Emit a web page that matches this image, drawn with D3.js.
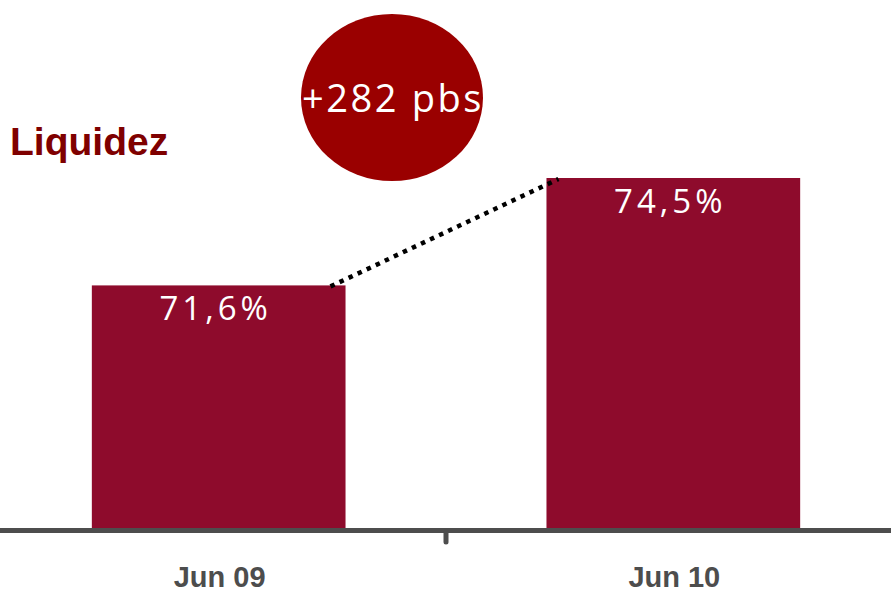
<!DOCTYPE html>
<html>
<head>
<meta charset="utf-8">
<script src="https://cdn.jsdelivr.net/npm/d3@7"></script>
<style>
  body { margin: 0; background: #fff; }
</style>
</head>
<body>
<script>
// chart data
var categories = ["Jun 09", "Jun 10"];
var values = [71.6, 74.5];
var valueLabels = ["71,6%", "74,5%"];
var changeLabel = "+282 pbs";
var title = "Liquidez";

var w = 891;
var h = 592;
var baseY = 528;

var svg = d3.select("body")
            .append("svg")
            .attr("width", w)
            .attr("height", h);

// scales
var x_scale = d3.scaleBand()
                .domain(categories)
                .range([0, 892])
                .paddingInner(0.442)
                .paddingOuter(0.202);

var y_scale = d3.scaleLinear()
                .domain([65.05, 74.5])
                .range([baseY, 178]);

// bars
svg.selectAll("rect.bar")
   .data(values)
   .enter()
   .append("rect")
   .attr("class", "bar")
   .attr("x", function(d, i){ return x_scale(categories[i]); })
   .attr("y", function(d){ return y_scale(d); })
   .attr("width", x_scale.bandwidth())
   .attr("height", function(d){ return baseY - y_scale(d); })
   .attr("fill", "#8E0B2C");

// value labels inside bars
svg.selectAll("text.val")
   .data(values)
   .enter()
   .append("text")
   .attr("class", "val")
   .attr("x", function(d, i){ return x_scale(categories[i]) + x_scale.bandwidth()/2 - 3; })
   .attr("y", function(d){ return y_scale(d) + 35; })
   .attr("text-anchor", "middle")
   .attr("fill", "#fff")
   .style("font-family", "Open Sans")
   .style("font-size", "33px")
   .style("letter-spacing", "4px")
   .text(function(d, i){ return valueLabels[i]; });

// x axis: thick line, tick between categories
svg.append("line")
   .attr("x1", 0).attr("x2", w)
   .attr("y1", baseY + 2.5).attr("y2", baseY + 2.5)
   .attr("stroke", "#4D4D4D")
   .attr("stroke-width", 5);

var midX = (x_scale(categories[0]) + x_scale.bandwidth() + x_scale(categories[1])) / 2;
svg.append("line")
   .attr("x1", midX).attr("x2", midX)
   .attr("y1", baseY + 4).attr("y2", baseY + 14)
   .attr("stroke", "#4D4D4D")
   .attr("stroke-width", 5)
   .attr("stroke-linecap", "round");

svg.selectAll("text.cat")
   .data(categories)
   .enter()
   .append("text")
   .attr("class", "cat")
   .attr("x", function(d){ return x_scale(d) + x_scale.bandwidth()/2 + 1; })
   .attr("y", 587)
   .attr("text-anchor", "middle")
   .attr("fill", "#4D4D4D")
   .style("font-family", "Liberation Sans, Arial, sans-serif")
   .style("font-weight", "bold")
   .style("font-size", "29px")
   .text(function(d){ return d; });

// dotted connector between bar tops
svg.append("line")
   .attr("x1", x_scale(categories[0]) + x_scale.bandwidth() - 15)
   .attr("y1", y_scale(values[0]) + 1)
   .attr("x2", x_scale(categories[1]) + 12)
   .attr("y2", y_scale(values[1]) + 1)
   .attr("stroke", "#000")
   .attr("stroke-width", 4.5)
   .attr("stroke-dasharray", "4.5,5.5");

// change bubble
svg.append("ellipse")
   .attr("cx", 392)
   .attr("cy", 97.5)
   .attr("rx", 91)
   .attr("ry", 83.5)
   .attr("fill", "#9A0000");

svg.append("text")
   .attr("x", 393)
   .attr("y", 112)
   .attr("text-anchor", "middle")
   .attr("fill", "#fff")
   .style("font-family", "Open Sans")
   .style("font-size", "38px")
   .style("letter-spacing", "2.6px")
   .text(changeLabel);

// title
svg.append("text")
   .attr("x", 10)
   .attr("y", 155)
   .attr("fill", "#7F0000")
   .style("font-family", "Liberation Sans, Arial, sans-serif")
   .style("font-weight", "bold")
   .style("font-size", "39px")
   .text(title);
</script>
</body>
</html>
